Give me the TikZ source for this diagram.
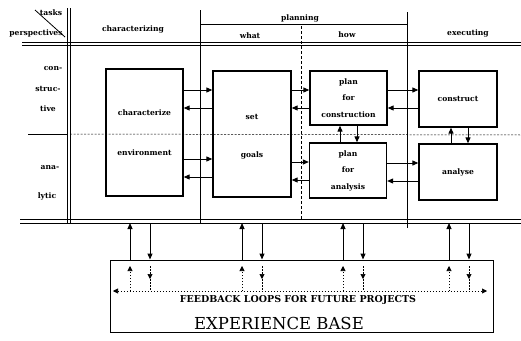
\documentclass[tikz,border=0pt]{standalone}
\usepackage{fontspec}
\setmainfont{DejaVu Serif}
\usetikzlibrary{arrows.meta}
\begin{document}
\begin{tikzpicture}[x=1pt,y=-1pt,
  grid/.style={line width=1pt},
  box/.style={draw,line width=1.3pt,inner sep=0pt,align=center,font=\bfseries\fontsize{7.6}{16.5}\selectfont},
  lbl/.style={inner sep=0pt,font=\bfseries\fontsize{7.6}{9}\selectfont},
  arr/.style={-{Triangle[length=6pt,width=5pt]},line width=1pt},
  sarr/.style={-{Triangle[length=5pt,width=5pt]},line width=0.6pt,dash pattern=on 1.5pt off 1.5pt}
]
\useasboundingbox (0,0) rectangle (521,340);
% grid
\draw[grid] (67,8) -- (67,223);
\draw[grid] (70,8) -- (70,223);
\draw[grid] (22,42) -- (521,42);
\draw[grid] (22,45) -- (521,45);
\draw[grid] (20,219) -- (521,219);
\draw[grid] (20,223) -- (521,223);
\draw[grid] (200,10) -- (200,223);
\draw[grid] (200,24) -- (407,24);
\draw[grid] (407,12) -- (407,228);
\draw[line width=0.6pt,dash pattern=on 3pt off 2pt] (301,26) -- (301,219);
\draw[line width=0.8pt] (28,134) -- (67,134);
\draw[line width=0.5pt,dash pattern=on 2pt off 1.5pt] (70,134) -- (521,135);
\draw[line width=0.8pt] (35,10) -- (65,37);
% headings
\node[lbl] (tasks) at (51,13) {tasks};
\node[lbl] (persp) at (36,33) {perspectives};
\node[lbl] (charzing) at (133,29) {characterizing};
\node[lbl] (planning) at (300,18) {planning};
\node[lbl] (what) at (250,36) {what};
\node[lbl] (how) at (347,35) {how};
\node[lbl] (exec) at (468,33) {executing};
\node[lbl] (con1) at (53,69) {con-};
\node[lbl] (con2) at (48,89) {struc-};
\node[lbl] (con3) at (48,109) {tive};
\node[lbl] (ana1) at (50,168) {ana-};
\node[lbl] (ana2) at (47,196) {lytic};
% boxes
\node[box,minimum width=77pt,minimum height=127pt] (char) at (144.5,132.5) {};
\node[lbl] (charT) at (144.5,113) {characterize};
\node[lbl] (charB) at (144.5,153) {environment};
\node[box,minimum width=78pt,minimum height=126pt] (set) at (252,134) {};
\node[lbl] (setT) at (252,117) {set};
\node[lbl] (setB) at (252,155) {goals};
\node[box,minimum width=77pt,minimum height=54pt] (pc) at (348.5,98) {plan\\for\\construction};
\node[box,minimum width=77pt,minimum height=55pt] (pa) at (348,170.5) {plan\\for\\analysis};
\node[box,minimum width=78pt,minimum height=56pt] (con) at (458,99) {construct};
\node[box,minimum width=78pt,minimum height=56pt] (ana) at (458,172) {analyse};
\node[draw,line width=1pt,minimum width=383pt,minimum height=72pt,inner sep=0pt] (exp) at (301.5,296) {};
\node[inner sep=0pt,font=\bfseries\fontsize{9.5}{12}\selectfont] (fbT) at (298,300) {FEEDBACK LOOPS FOR FUTURE PROJECTS};
\node[inner sep=0pt,font=\fontsize{16.5}{20}\selectfont] (expT) at (279,323) {EXPERIENCE BASE};
% horizontal arrows
\draw[arr] (char.east |- 0,90) -- (set.west |- 0,90);
\draw[arr] (set.west |- 0,108) -- (char.east |- 0,108);
\draw[arr] (set.east |- 0,90) -- (pc.west |- 0,90);
\draw[arr] (pc.west |- 0,108) -- (set.east |- 0,108);
\draw[arr] (pc.east |- 0,90) -- (con.west |- 0,90);
\draw[arr] (con.west |- 0,108) -- (pc.east |- 0,108);
\draw[arr] (char.east |- 0,159) -- (set.west |- 0,159);
\draw[arr] (set.west |- 0,177) -- (char.east |- 0,177);
\draw[arr] (set.east |- 0,162) -- (pa.west |- 0,162);
\draw[arr] (pa.west |- 0,180) -- (set.east |- 0,180);
\draw[arr] (pa.east |- 0,163) -- (ana.west |- 0,163);
\draw[arr] (ana.west |- 0,181) -- (pa.east |- 0,181);
% vertical arrows
\draw[arr] (pa.north -| 340,0) -- (pc.south -| 340,0);
\draw[arr] (pc.south -| 357,0) -- (pa.north -| 357,0);
\draw[arr] (ana.north -| 451,0) -- (con.south -| 451,0);
\draw[arr] (con.south -| 468,0) -- (ana.north -| 468,0);
% experience base links
\coordinate (bl) at (0,223);
\coordinate (fb) at (0,291);
\coordinate (fbtop) at (0,266);
\coordinate (fbmid) at (0,279);
\coordinate (fbL) at (113,291);
\coordinate (fbR) at (487,291);
\foreach \u/\d in {130/150,242/262,343/363,449/469} {
  \draw[arr] (exp.north -| \u,0) -- (bl -| \u,0);
  \draw[arr] (bl -| \d,0) -- (exp.north -| \d,0);
  \draw[sarr] (fb -| \u,0) -- (fbtop -| \u,0);
  \draw[sarr] (fbtop -| \d,0) -- (fbmid -| \d,0);
  \draw[line width=0.6pt,dash pattern=on 1.5pt off 1.5pt] (fbmid -| \d,0) -- (fb -| \d,0);
}
\draw[sarr,{Triangle[length=5pt,width=5pt]}-{Triangle[length=5pt,width=5pt]}] (fbL) -- (fbR);
\end{tikzpicture}
\end{document}
